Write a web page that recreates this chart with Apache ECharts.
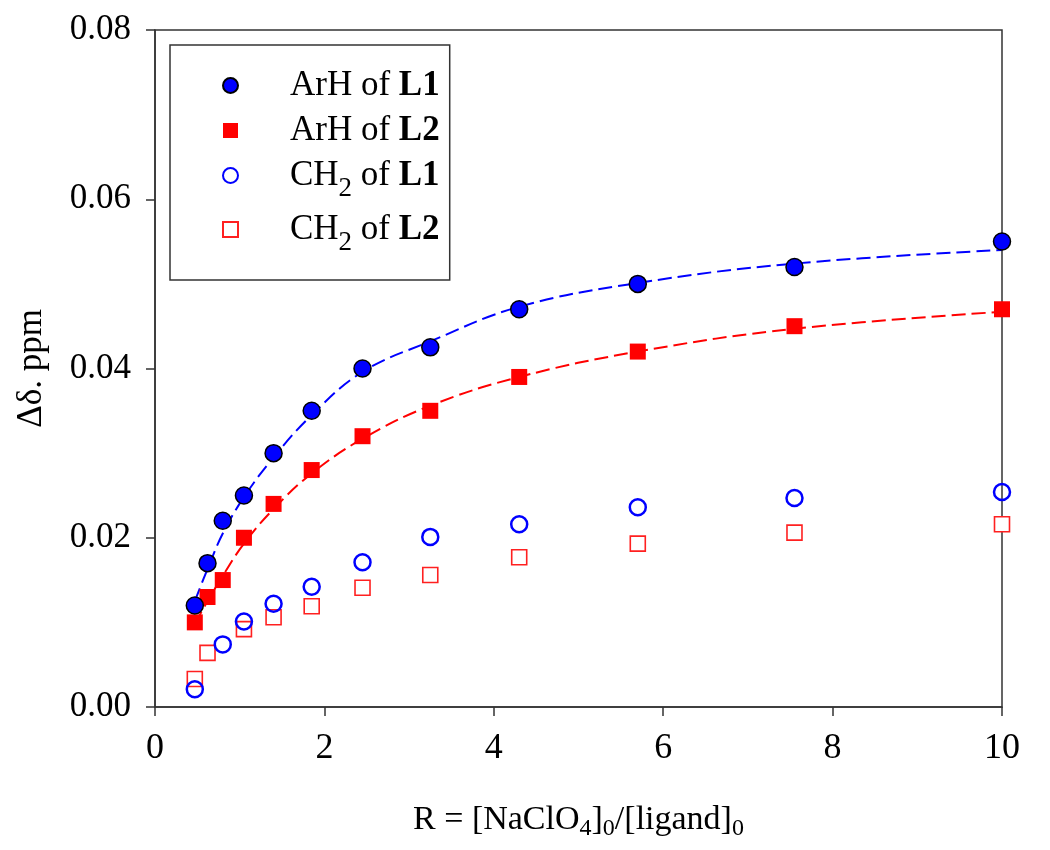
<!DOCTYPE html>
<html>
<head>
<meta charset="utf-8">
<script src="https://cdn.jsdelivr.net/npm/echarts@6/dist/echarts.min.js"></script>
<style>html,body{margin:0;padding:0;background:#fff}#c{width:1050px;height:850px}</style>
</head>
<body>
<div id="c"></div>
<script>
// ---- data ----
const xArH = [0.47, 0.62, 0.8, 1.05, 1.4, 1.85, 2.45, 3.25, 4.3, 5.7, 7.55, 10];
const arhL1 = [0.012, 0.017, 0.022, 0.025, 0.030, 0.035, 0.040, 0.0425, 0.047, 0.050, 0.052, 0.055];
const arhL2 = [0.010, 0.013, 0.015, 0.020, 0.024, 0.028, 0.032, 0.035, 0.039, 0.042, 0.045, 0.047];
const xCH2L1 = [0.47, 0.8, 1.05, 1.4, 1.85, 2.45, 3.25, 4.3, 5.7, 7.55, 10];
const ch2L1 = [0.0021, 0.0074, 0.0101, 0.0122, 0.0142, 0.0171, 0.0201, 0.0216, 0.0236, 0.0247, 0.0254];
const xCH2L2 = [0.47, 0.62, 1.05, 1.4, 1.85, 2.45, 3.25, 4.3, 5.7, 7.55, 10];
const ch2L2 = [0.0033, 0.0064, 0.0092, 0.0106, 0.0119, 0.0141, 0.0156, 0.0177, 0.0193, 0.0206, 0.0216];
// fitted curves
const xFit = [0.47, 0.62, 0.8, 1.05, 1.4, 1.85, 2.45, 3.25, 4.3, 5.7, 7.55, 10];
const fitL1 = [0.0125, 0.0163, 0.0205, 0.0248, 0.0295, 0.0345, 0.0396, 0.0432, 0.0473, 0.0501, 0.0524, 0.0540];
const fitL2 = [0.0098, 0.0125, 0.0155, 0.0193, 0.0234, 0.0276, 0.0317, 0.0356, 0.0390, 0.0420, 0.0447, 0.0467];
const xTicks = [0, 2, 4, 6, 8, 10];
const yTicks = [0.00, 0.02, 0.04, 0.06, 0.08];
const legendNames = ['ArH of L1', 'ArH of L2', 'CH2 of L1', 'CH2 of L2'];

const zip = (xs, ys) => xs.map((x, i) => [x, ys[i]]);
const FONT = '"Liberation Serif", "Times New Roman", serif';
const richTitle = {
  n: {fontFamily: FONT, fontSize: 34, color: '#000'},
  sub: {fontFamily: FONT, fontSize: 24, color: '#000', padding: [18, 0, 0, 0]}
};
const richLegend = {
  b: {fontFamily: FONT, fontSize: 35, fontWeight: 'bold', color: '#000'},
  n: {fontFamily: FONT, fontSize: 35, color: '#000'},
  sub: {fontFamily: FONT, fontSize: 27, color: '#000', padding: [26, 0, 0, 0]}
};

const chart = echarts.init(document.getElementById('c'), null, {renderer: 'canvas'});
chart.setOption({
  animation: false,
  backgroundColor: '#fff',
  grid: {left: 155, right: 48, top: 30, bottom: 143, show: true, borderColor: '#333', borderWidth: 1.5, backgroundColor: 'transparent'},
  xAxis: {
    type: 'value', min: 0, max: 10, interval: 2,
    axisLine: {show: true, onZero: false, lineStyle: {color: '#333', width: 1.5}},
    axisTick: {show: true, inside: false, length: 9, lineStyle: {color: '#333', width: 1.5}},
    splitLine: {show: false},
    axisLabel: {margin: 24, fontFamily: FONT, fontSize: 36, color: '#000', formatter: v => xTicks.includes(v) ? String(v) : ''},
    name: '{n|R = [NaClO}{sub|4}{n|]}{sub|0}{n|/[ligand]}{sub|0}',
    nameLocation: 'middle', nameGap: 92,
    nameTextStyle: {rich: richTitle, fontFamily: FONT, fontSize: 34, color: '#000'}
  },
  yAxis: {
    type: 'value', min: 0, max: 0.08, interval: 0.02,
    axisLine: {show: true, onZero: false, lineStyle: {color: '#333', width: 1.5}},
    axisTick: {show: true, inside: false, length: 9, lineStyle: {color: '#333', width: 1.5}},
    splitLine: {show: false},
    axisLabel: {margin: 24, fontFamily: FONT, fontSize: 35, color: '#000', formatter: v => v.toFixed(2)},
    name: 'Δδ. ppm', nameLocation: 'middle', nameGap: 106, nameRotate: 90,
    nameTextStyle: {fontFamily: FONT, fontSize: 35, color: '#000'}
  },
  legend: {
    orient: 'vertical', left: 170, top: 45,
    backgroundColor: '#fff', borderColor: '#333', borderWidth: 1.5,
    padding: [23, 10, 24, 52],
    itemWidth: 15, itemHeight: 15, itemGap: 10,
    data: legendNames,
    formatter: function (name) {
      const m = {
        'ArH of L1': '{n|ArH of }{b|L1}',
        'ArH of L2': '{n|ArH of }{b|L2}',
        'CH2 of L1': '{n|CH}{sub|2}{n| of }{b|L1}',
        'CH2 of L2': '{n|CH}{sub|2}{n| of }{b|L2}'
      };
      return m[name];
    },
    textStyle: {rich: richLegend, padding: [0, 0, 0, 47], fontFamily: FONT, fontSize: 35, color: '#000'}
  },
  series: [
    {name: 'fitL1', type: 'line', data: zip(xFit, fitL1), smooth: 0.4, symbol: 'none', z: 1,
     lineStyle: {color: '#0000ff', width: 2, type: [14, 6]}},
    {name: 'fitL2', type: 'line', data: zip(xFit, fitL2), smooth: 0.4, symbol: 'none', z: 1,
     lineStyle: {color: '#ff0000', width: 2, type: [14, 6]}},
    {name: 'CH2 of L2', type: 'scatter', data: zip(xCH2L2, ch2L2), symbol: 'rect', symbolSize: 15, z: 2,
     itemStyle: {color: '#fff', borderColor: '#ff2020', borderWidth: 1.6, opacity: 1}},
    {name: 'CH2 of L1', type: 'scatter', data: zip(xCH2L1, ch2L1), symbol: 'circle', symbolSize: 16, z: 3,
     itemStyle: {color: 'rgba(255,255,255,0)', borderColor: '#0000ff', borderWidth: 2.5, opacity: 1}},
    {name: 'ArH of L2', type: 'scatter', data: zip(xArH, arhL2), symbol: 'rect', symbolSize: 16, z: 4,
     itemStyle: {color: '#ff0000', borderColor: '#ff0000', borderWidth: 0, opacity: 1}},
    {name: 'ArH of L1', type: 'scatter', data: zip(xArH, arhL1), symbol: 'circle', symbolSize: 17, z: 5,
     itemStyle: {color: '#0000ff', borderColor: '#000', borderWidth: 1.5, opacity: 1}}
  ]
});
</script>
</body>
</html>
